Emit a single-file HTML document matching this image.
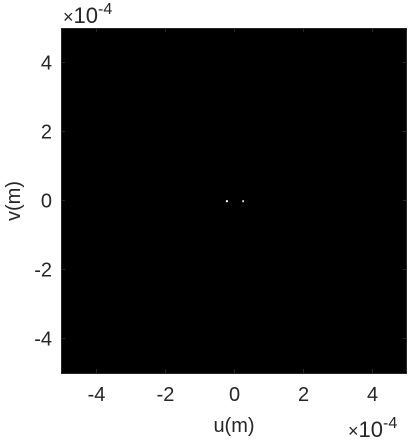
<!DOCTYPE html>
<html><head><meta charset="utf-8"><style>
body{margin:0;background:#fff;width:410px;height:439px;overflow:hidden}
text{font-family:"Liberation Sans",sans-serif;fill:#262626}
</style></head><body>
<svg id="c" width="410" height="439">
<rect x="61.5" y="28.5" width="345" height="345" fill="#000" stroke="#262626"/>
<g id="ticks"></g>
<text x="234" y="432" font-size="20" text-anchor="middle">u(m)</text>
<text transform="translate(20,201) rotate(-90)" font-size="20" text-anchor="middle">v(m)</text>
<text x="63" y="23"><tspan font-size="18">×</tspan><tspan font-size="22">10</tspan><tspan font-size="16" dy="-9">-4</tspan></text>
<text x="348" y="437"><tspan font-size="18">×</tspan><tspan font-size="22">10</tspan><tspan font-size="16" dy="-9">-4</tspan></text>
</svg>
<script>
const xTicks=[-4,-2,0,2,4];
const yTicks=[-4,-2,0,2,4];
const ptsU=[-0.22,0.25];
const ptsV=[-0.02,-0.02];
const ptsSize=[2,1.5];
const sx=u=>234.5+u*34.5, sy=v=>200.5-v*34.5;
const g=document.getElementById('ticks'),NS='http://www.w3.org/2000/svg';
function mk(t,a){const e=document.createElementNS(NS,t);for(const k in a)e.setAttribute(k,a[k]);g.appendChild(e);return e;}
xTicks.forEach(t=>{const x=sx(t);
mk('line',{x1:x,x2:x,y1:373,y2:369,stroke:'#262626'});
mk('line',{x1:x,x2:x,y1:28,y2:32,stroke:'#262626'});
const e=mk('text',{x:x,y:401,'font-size':20,'text-anchor':'middle'});e.textContent=t;

});
yTicks.forEach(t=>{const y=sy(t);
mk('line',{x1:61,x2:65,y1:y,y2:y,stroke:'#262626'});
mk('line',{x1:407,x2:403,y1:y,y2:y,stroke:'#262626'});
const e=mk('text',{x:52,y:y+7,'font-size':20,'text-anchor':'end'});e.textContent=t;

});
ptsU.forEach((u,i)=>{const s=ptsSize[i];
const r=mk('rect',{x:sx(u)-s/2,y:sy(ptsV[i])-1,width:s,height:2,fill:'#fff'});

});
</script>
</body></html>
